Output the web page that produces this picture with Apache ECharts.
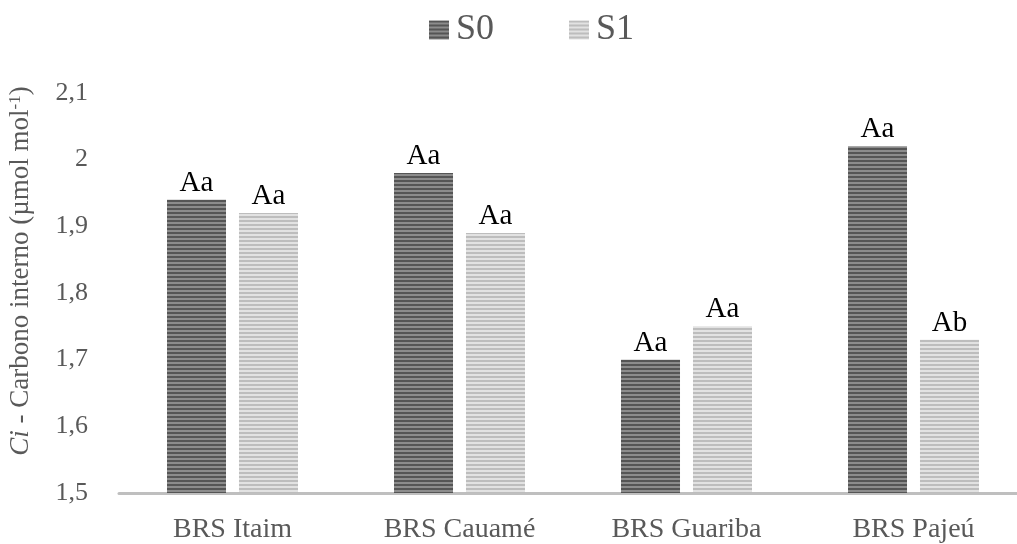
<!DOCTYPE html>
<html><head><meta charset="utf-8">
<script src="https://cdn.jsdelivr.net/npm/echarts@6/dist/echarts.min.js"></script>
<style>html,body{margin:0;padding:0;background:#fff}#c{width:1017px;height:544px}</style>
</head><body><div id="c"></div>
<script>
const categories = ['BRS Itaim', 'BRS Cauamé', 'BRS Guariba', 'BRS Pajeú'];
const s0Values = [1.94, 1.98, 1.70, 2.02];
const s1Values = [1.92, 1.89, 1.75, 1.73];
const s0Labels = ['Aa', 'Aa', 'Aa', 'Aa'];
const s1Labels = ['Aa', 'Aa', 'Aa', 'Ab'];
const seriesNames = ['S0', 'S1'];

function stripe(c1, c2) {
  const cv = document.createElement('canvas');
  cv.width = 4; cv.height = 4;
  const ctx = cv.getContext('2d');
  ctx.fillStyle = c1; ctx.fillRect(0, 0, 4, 2);
  ctx.fillStyle = c2; ctx.fillRect(0, 2, 4, 2);
  return { image: cv, repeat: 'repeat' };
}
const font = 'Liberation Serif';
const chart = echarts.init(document.getElementById('c'));
function mk(name, vals, labs, fill) {
  return {
    name: name, type: 'bar', barWidth: 59, barGap: '22%',
    itemStyle: { color: fill },
    data: vals.map((v, i) => ({ value: v, label: { formatter: labs[i] } })),
    label: { show: true, position: 'top', distance: 2, color: '#000', fontFamily: font, fontSize: 29 }
  };
}
chart.setOption({
  animation: false,
  textStyle: { fontFamily: font },
  legend: {
    top: 7, left: 424, itemWidth: 20, itemHeight: 19, itemGap: 75, icon: 'rect',
    textStyle: { fontFamily: font, fontSize: 36, color: '#595959', padding: [0, 0, 0, 2] },
    data: seriesNames
  },
  grid: { left: 119, top: 93, right: -10, bottom: 51, outerBoundsMode: 'none', containLabel: false },
  xAxis: {
    type: 'category', data: categories,
    axisLine: { lineStyle: { color: '#bfbfbf', width: 3 } },
    axisTick: { show: false },
    axisLabel: { color: '#595959', fontSize: 28, fontFamily: font, margin: 23 }
  },
  yAxis: {
    type: 'value', min: 1.5, max: 2.1, interval: 0.1,
    splitLine: { show: false }, axisLine: { show: false }, axisTick: { show: false },
    axisLabel: { color: '#595959', fontSize: 26, fontFamily: font, margin: 31,
      formatter: v => String(Math.round(v * 10) / 10).replace('.', ',') },
    name: '{it|Ci} - Carbono interno (µmol mol{sup|-1})',
    nameLocation: 'middle', nameGap: 85,
    nameTextStyle: {
      color: '#595959', fontSize: 27, fontFamily: font, padding: [0, 0, 0, 44],
      rich: {
        it: { fontStyle: 'italic', fontSize: 27, fontFamily: font, color: '#595959' },
        sup: { fontSize: 17, fontFamily: font, color: '#595959', verticalAlign: 'top', padding: [0, 0, 10, 0] }
      }
    }
  },
  series: [
    mk(seriesNames[0], s0Values, s0Labels, stripe('#555555', '#8c8c8c')),
    mk(seriesNames[1], s1Values, s1Labels, stripe('#bdbdbd', '#e2e2e2'))
  ]
});
</script></body></html>
